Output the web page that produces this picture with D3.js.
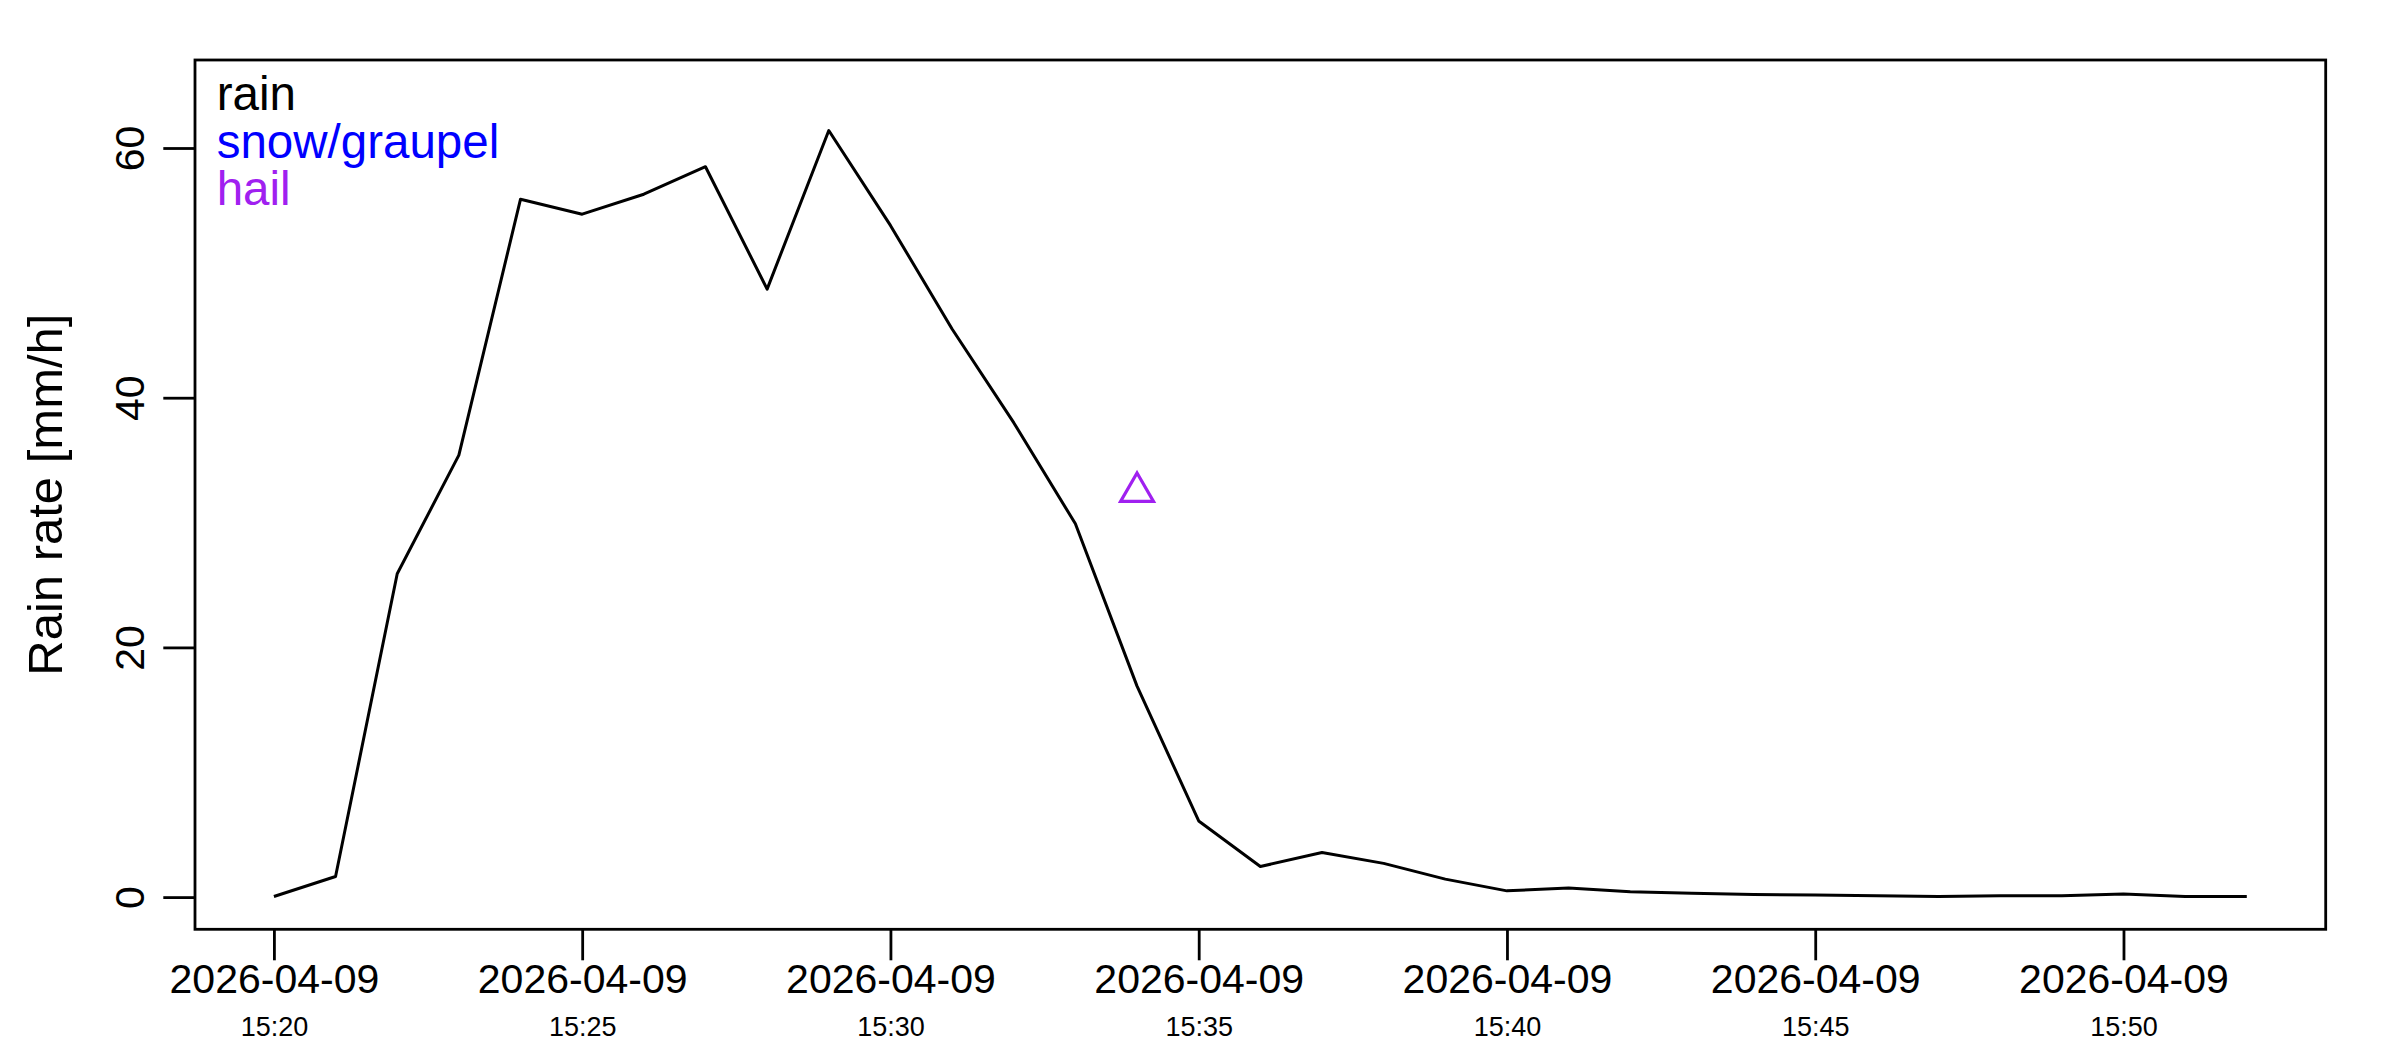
<!DOCTYPE html>
<html>
<head>
<meta charset="utf-8">
<script src="https://cdn.jsdelivr.net/npm/d3@7"></script>
<style>
    body { margin: 0; background: #fff; }
    svg { display: block; font-family: "Liberation Sans", Arial, Helvetica, sans-serif; }
</style>
</head>
<body>
<div id="chart"></div>
<script>
// data
const day = "2026-04-09";
const minutes = ["15:20","15:21","15:22","15:23","15:24","15:25","15:26","15:27","15:28","15:29",
                 "15:30","15:31","15:32","15:33","15:34","15:35","15:36","15:37","15:38","15:39",
                 "15:40","15:41","15:42","15:43","15:44","15:45","15:46","15:47","15:48","15:49",
                 "15:50","15:51","15:52"];
const rainRate = [0.05, 1.65, 25.9, 35.4, 55.9, 54.7, 56.3, 58.5, 48.7, 61.4,
                  53.8, 45.5, 38.0, 29.9, 16.9, 6.1, 2.45, 3.57, 2.7, 1.44,
                  0.5, 0.72, 0.42, 0.3, 0.2, 0.16, 0.1, 0.05, 0.1, 0.1,
                  0.24, 0.05, 0.05];
const hailMinutes = ["15:34"];
const hailRate = [32.45];

const legendLabels = ["rain", "snow/graupel", "hail"];
const legendColors = ["#000000", "#0000ff", "#a020f0"];
const yTicks = [0, 20, 40, 60];
const xTickMinutes = ["15:20","15:25","15:30","15:35","15:40","15:45","15:50"];
const yTitle = "Rain rate [mm/h]";

// setup / layout
const width = 2400;
const height = 1050;
const box = {l: 195, r: 2325.7, t: 60, b: 929.3};

const parse = d3.utcParse("%Y-%m-%d %H:%M");
const rain = minutes.map((m, i) => ({t: parse(day + " " + m), v: rainRate[i]}));
const hail = hailMinutes.map((m, i) => ({t: parse(day + " " + m), v: hailRate[i]}));

// R style ranges: 4% padding, ylim = c(0, 1.05 * max)
const tExt = d3.extent(rain, d => d.t);
const tPad = (tExt[1] - tExt[0]) * 0.04;
const yMax = d3.max(rain, d => d.v) * 1.05;
const yPad = yMax * 0.04;

const scaleX = d3.scaleUtc()
    .domain([new Date(+tExt[0] - tPad), new Date(+tExt[1] + tPad)])
    .range([box.l, box.r]);
const scaleY = d3.scaleLinear()
    .domain([-yPad, yMax + yPad])
    .range([box.b, box.t]);

const svg = d3.select('#chart')
    .append('svg')
    .attr('width', width)
    .attr('height', height);

svg.append('rect')
    .attr('width', width)
    .attr('height', height)
    .attr('fill', '#fff');

// rain line
const path = d3.line()
    .x(d => scaleX(d.t))
    .y(d => scaleY(d.v));

svg.append('path')
    .datum(rain)
    .attr('fill', 'none')
    .attr('stroke', '#000')
    .attr('stroke-width', 3)
    .attr('stroke-linejoin', 'round')
    .attr('d', path);

// hail points (open triangles)
svg.selectAll('.hail')
    .data(hail)
    .join('path')
    .attr('class', 'hail')
    .attr('transform', d => `translate(${scaleX(d.t)},${scaleY(d.v)})`)
    .attr('d', d3.symbol(d3.symbolTriangle, 469))
    .attr('fill', 'none')
    .attr('stroke', legendColors[2])
    .attr('stroke-width', 3.2);

// plot box
svg.append('rect')
    .attr('x', box.l)
    .attr('y', box.t)
    .attr('width', box.r - box.l)
    .attr('height', box.b - box.t)
    .attr('fill', 'none')
    .attr('stroke', '#000')
    .attr('stroke-width', 2.8);

// x axis: date on the first line, time below in smaller type
const xTicks = xTickMinutes.map(m => parse(day + " " + m));
const xAxis = svg.append('g')
    .attr('transform', `translate(0,${box.b})`)
    .call(d3.axisBottom(scaleX)
        .tickValues(xTicks)
        .tickSize(31)
        .tickSizeOuter(0)
        .tickFormat(''));
xAxis.select('.domain').remove();
xAxis.selectAll('.tick line').attr('stroke', '#000').attr('stroke-width', 2.8);
xAxis.selectAll('.tick text').remove();

const xTick = xAxis.selectAll('.tick');
xTick.append('text')
    .attr('y', 64)
    .attr('text-anchor', 'middle')
    .attr('fill', '#000')
    .attr('font-size', 41)
    .text(d => d3.utcFormat("%Y-%m-%d")(d));
xTick.append('text')
    .attr('y', 107)
    .attr('text-anchor', 'middle')
    .attr('fill', '#000')
    .attr('font-size', 27)
    .text(d => d3.utcFormat("%H:%M")(d));

// y axis, labels parallel to the axis
const yAxis = svg.append('g')
    .attr('transform', `translate(${box.l},0)`)
    .call(d3.axisLeft(scaleY)
        .tickValues(yTicks)
        .tickSize(31.7)
        .tickSizeOuter(0));
yAxis.select('.domain').remove();
yAxis.selectAll('.tick line').attr('stroke', '#000').attr('stroke-width', 2.8);
yAxis.selectAll('.tick text')
    .attr('x', null)
    .attr('dy', null)
    .attr('transform', 'translate(-51,0) rotate(-90)')
    .attr('text-anchor', 'middle')
    .attr('fill', '#000')
    .attr('font-size', 41)
    .attr('font-family', '"Liberation Sans", Arial, sans-serif');

// y title
svg.append('text')
    .attr('transform', `translate(61.7,${(box.t + box.b) / 2}) rotate(-90)`)
    .attr('text-anchor', 'middle')
    .attr('font-size', 49)
    .attr('fill', '#000')
    .text(yTitle);

// legend (text only, coloured)
svg.append('g')
    .selectAll('text')
    .data(legendLabels)
    .join('text')
    .attr('x', 216.7)
    .attr('y', (d, i) => 110 + i * 47.5)
    .attr('font-size', 47.5)
    .attr('fill', (d, i) => legendColors[i])
    .text(d => d);
</script>
</body>
</html>
